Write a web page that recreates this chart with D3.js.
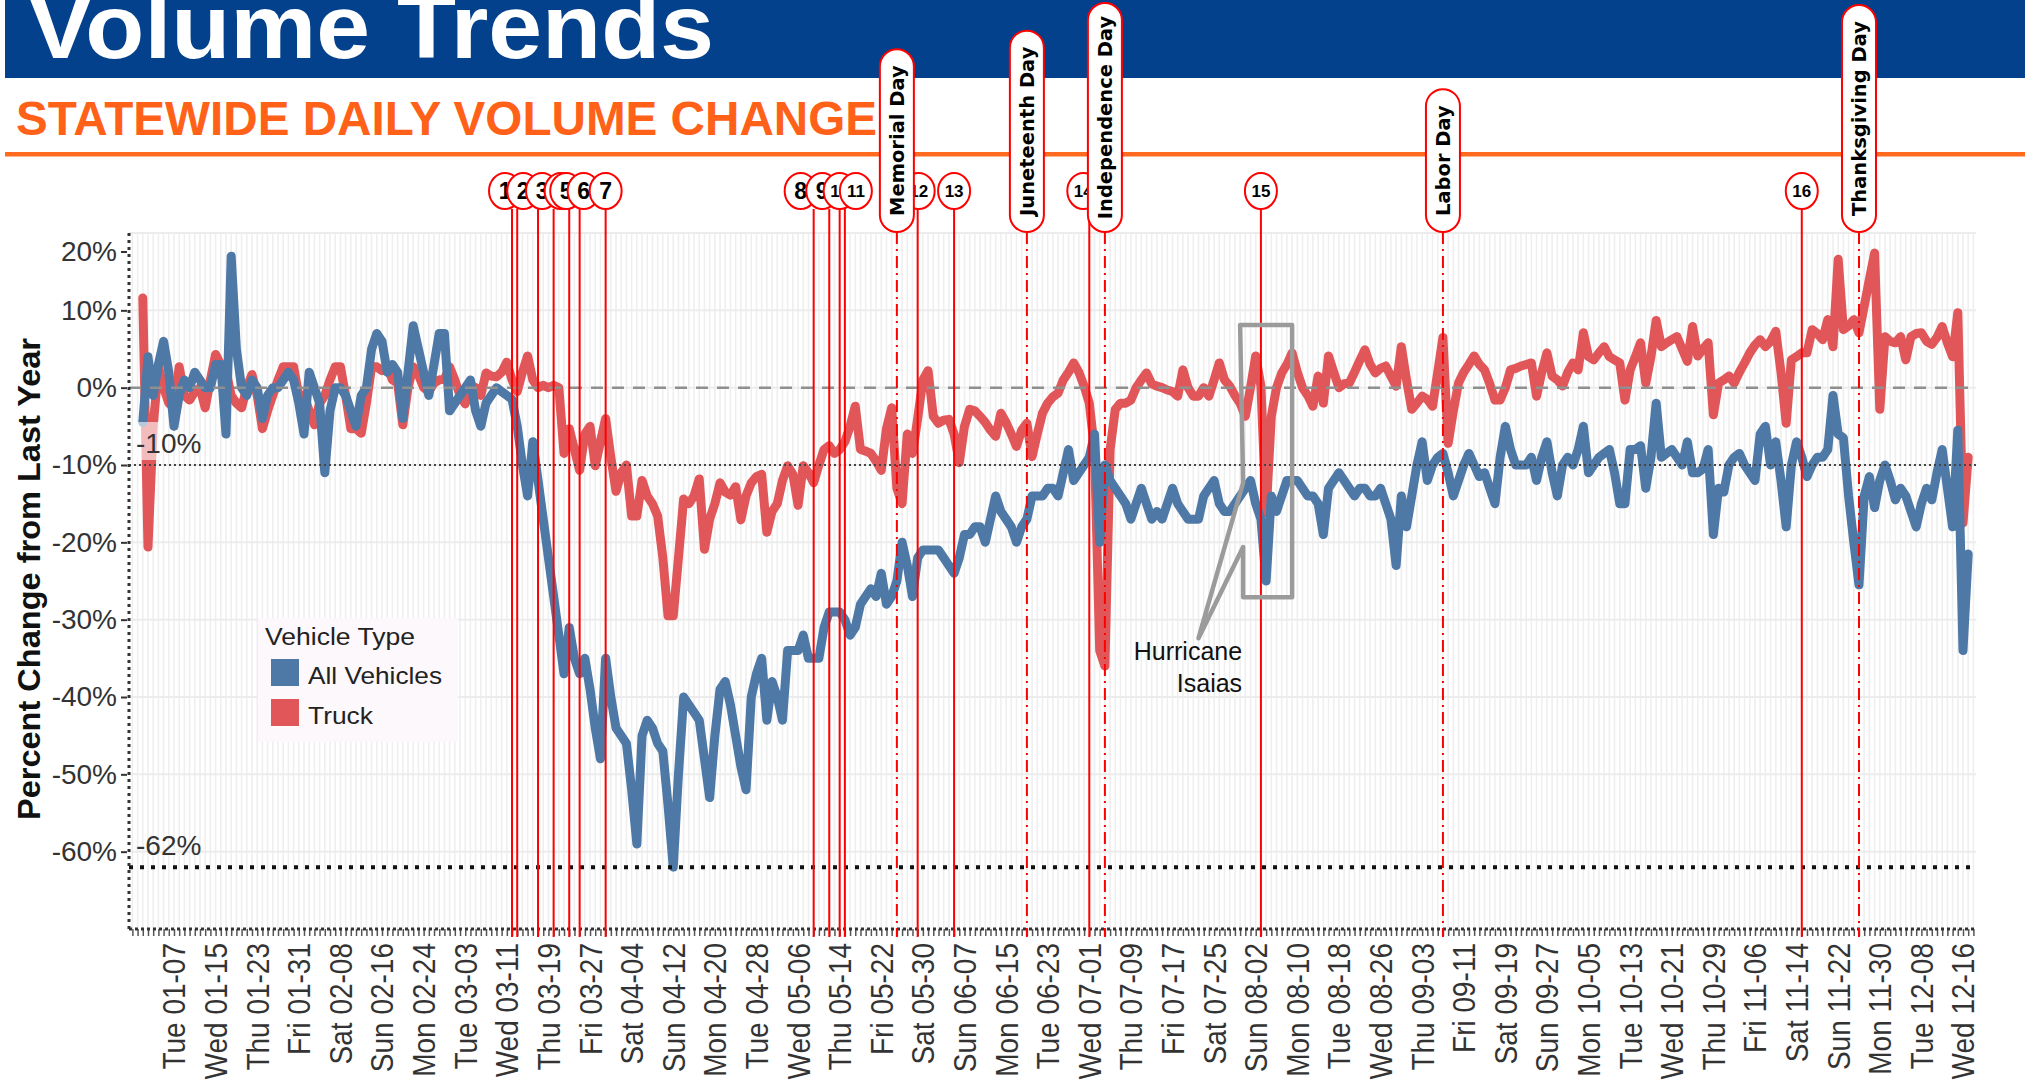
<!DOCTYPE html>
<html lang="en">
  <head>
    <meta charset="UTF-8" />
    <title>Volume Trends</title>
    <style>
      body { margin: 0; background: #fff; }
      svg { display: block; }
      text { font-family: "Liberation Sans", Arial, sans-serif; }
      text.pill { font-family: "DejaVu Sans", Verdana, sans-serif; }
    </style>
  </head>
  <body>
    <svg id="chart" width="2025" height="1092"></svg>

    <script src="https://cdn.jsdelivr.net/npm/d3@7/dist/d3.min.js"></script>
    <script>
    // daily % change from last year, one value per day starting 2020-01-01
    var firstDay = "2020-01-01";

    var allVehicles = [
      -4.5, 4, -1, 3, 6, 2, -5, -1, 1, 0,
      2, 1, 0, 0, 3, 3, -6, 17, 5, 0,
      -1, 1, 0, -4, -1, 0, 0, 1, 2, 1,
      -2, -6, 2, 0, -2, -11, -3, 0, 0, -1,
      -3, -5, -1, 0, 5, 7, 6, 2, 3, 2,
      -4, 2, 8, 5, 2, -1, 3, 7, 7, -3,
      -2, -1, 0, 1, -3, -5, -2, -1, 0, -0.5,
      -1, -1.5, -5, -10, -14, -7, -12, -17, -22, -27,
      -32, -37, -31, -35, -37, -35, -39, -44, -48, -35,
      -40, -44, -45, -46, -52, -59, -45, -43, -44, -46,
      -47, -54, -62, -50, -40, -41, -42, -43, -48, -53,
      -45, -39, -38, -41, -45, -49, -52, -40, -37, -35,
      -43, -38, -40, -43, -34, -34, -34, -32, -35, -35,
      -35, -31, -29, -29, -29, -30, -32, -31, -28, -27,
      -26, -27, -24, -28, -27, -25, -20, -23, -27, -22,
      -21, -21, -21, -21, -22, -23, -24, -22, -19, -19,
      -18, -18, -20, -17, -14, -16, -17, -18, -20, -18,
      -17, -14, -14, -14, -13, -13, -14, -11, -8, -12,
      -11, -10, -9, -6, -20, -10, -12, -13, -14, -15,
      -17, -15, -13, -15, -17, -16, -17, -15, -13, -15,
      -16, -17, -17, -17, -14, -13, -12, -15, -16, -16,
      -15, -14, -13, -12, -15, -17, -25, -14, -16, -14,
      -12, -12, -12, -13, -14, -14, -15, -19, -13, -12,
      -11, -12, -13, -14, -13, -13, -14, -14, -13, -15,
      -17, -23, -14, -18, -14, -10, -7, -12, -10, -9,
      -8.5, -11, -14, -12, -10, -8.5, -10, -11.5, -11, -13,
      -15, -9, -5, -8, -10, -10, -10, -9, -12, -9,
      -7, -11, -14, -10, -9, -10, -8, -5, -11, -10,
      -9, -8.5, -8, -11, -15, -15, -8, -8, -7.5, -13,
      -9, -2, -9, -8.5, -8, -9, -10, -7, -11, -11,
      -10.5, -8, -19, -13, -13.5, -10, -9, -8.5, -10, -11,
      -12, -6, -5, -10, -7, -12, -18, -10, -7, -9,
      -11.5, -10, -9, -9, -8, -1, -6, -6.5, -14, -20,
      -25.5, -14, -11.5, -15.5, -12, -10, -12, -14.5, -13, -14,
      -16, -18, -15, -13, -14.5, -11, -8, -13, -18, -5.5,
      -34, -21.5
    ];

    var truck = [
      11.6, -20.6, -5, 2.7, 0, -2, -2.6, 2.7, -1, -1.6,
      -0.5, 0, -2.6, 1, 4.3, 3, 2.2, -1, -2, -2.6,
      0, 1.7, -1, -5.3, -3, -1, 1, 2.7, 2.7, 2.7,
      -1, -1, -3, -4.8, -2, -1, 1, 2.7, 2.7, -1,
      -5.3, -5.3, -5.9, -2, 2.7, 2.7, 2.2, 2.7, 1, 0.6,
      -4.8, 0, 2.7, 1.7, 0, -0.5, 0.6, 1, 1.1, 2.7,
      1, -1, -2.1, 0.3, 0, -1, 1.9, 1.5, 1.4, 2,
      3.3, 1, -0.5, 2, 4.1, 1, 0, 0.3, 0, 0.3,
      0, -8.5, -5.3, -8, -10.7, -6, -5, -10.1, -7, -4,
      -9, -13.4, -11, -10, -16.6, -16.6, -12, -14, -15, -16.6,
      -22, -29.5, -29.5, -22, -14.4, -15, -14, -11.8, -20.9, -17,
      -15, -12.3, -13.5, -13.9, -12.8, -17.1, -14, -12.3, -11.5, -11.2,
      -18.7, -16, -15, -12, -10.1, -11.2, -15.2, -10.1, -11, -12.3,
      -10, -8, -7.5, -8.5, -8, -7, -5, -2.4, -8, -8.2,
      -8.5, -9.5, -10.7, -5.3, -2.6, -13, -15, -6, -8.5, -4,
      1, 2.2, -3.7, -4.6, -4.2, -4.1, -6, -9.7, -5, -2.8,
      -3, -3.7, -4.5, -5.5, -6.3, -3.3, -4.5, -6, -7.6, -5.5,
      -4.6, -8.9, -6, -3.3, -2, -1.2, -0.7, 1, 2, 3.2,
      2, 0.2, -2, -8, -34, -36, -8, -2.8, -2, -2,
      -1.6, 0, 1, 1.9, 0.5, 0.2, 0, -0.3, -0.5, -1.1,
      2.3, 0, -1.1, -1.1, 0, -1.1, 1, 3.2, 1, 0.2,
      -1, -2, -3.7, 0, 4.1, 0.2, -16.2, -3.7, 0, 1.9,
      3, 4.5, 2, 0, -1, -2.4, 1.5, -2, 4.1, 2,
      0, 0.5, 0.6, 2, 3.5, 4.9, 3, 1.9, 2.5, 2.8,
      1.5, 0.2, 5.3, 1, -2.8, -2, -1.1, -1.5, -2.4, 2,
      6.5, -7.2, -3, 0.6, 2, 3, 4.1, 3, 2.3, 0.5,
      -1.6, -1.6, 0, 2.3, 2.5, 2.8, 3, 3.2, -1.1, 2,
      4.5, 1.5, 1, 0.2, 2, 3.2, 2.3, 7.1, 4, 3.6,
      4.5, 5.3, 4, 3.6, 3.2, -1.6, 2.3, 4, 5.8, 0.6,
      4, 8.7, 5.3, 5.8, 6.2, 6.6, 5, 3.4, 7.9, 4.1,
      5, 5.8, -3.5, 0.6, 1, 1.5, 0.6, 2, 3.2, 4.5,
      5.5, 6.2, 5.3, 6, 7.3, 2, -4.6, 3.6, 4, 4.5,
      4.5, 7.5, 7, 6.2, 8.8, 5.3, 16.6, 7.5, 8, 8.8,
      7.1, 10.5, 14, 17.4, -2.8, 6.6, 6, 5.8, 6.6, 3.6,
      6.6, 7, 7.1, 6, 5.6, 6.5, 7.9, 5.8, 4, 9.7,
      -17.5, -9
    ];

    var yTicks = [20, 10, 0, -10, -20, -30, -40, -50, -60];

    var tickDates = [
      "2020-01-07", "2020-01-15", "2020-01-23", "2020-01-31", "2020-02-08",
      "2020-02-16", "2020-02-24", "2020-03-03", "2020-03-11", "2020-03-19",
      "2020-03-27", "2020-04-04", "2020-04-12", "2020-04-20", "2020-04-28",
      "2020-05-06", "2020-05-14", "2020-05-22", "2020-05-30", "2020-06-07",
      "2020-06-15", "2020-06-23", "2020-07-01", "2020-07-09", "2020-07-17",
      "2020-07-25", "2020-08-02", "2020-08-10", "2020-08-18", "2020-08-26",
      "2020-09-03", "2020-09-11", "2020-09-19", "2020-09-27", "2020-10-05",
      "2020-10-13", "2020-10-21", "2020-10-29", "2020-11-06", "2020-11-14",
      "2020-11-22", "2020-11-30", "2020-12-08", "2020-12-16"
    ];

    var refLevels = [0, -10, -62];
    var refLabels = ["", "-10%", "-62%"];

    var eventNums = [1, 2, 3, 4, 5, 6, 7, 8, 9, 10, 11, 12, 13, 14, 15, 16];
    var eventDates = [
      "2020-03-12", "2020-03-13", "2020-03-17", "2020-03-20", "2020-03-23",
      "2020-03-25", "2020-03-30", "2020-05-09", "2020-05-12", "2020-05-14",
      "2020-05-15", "2020-05-29", "2020-06-05", "2020-07-01", "2020-08-03",
      "2020-11-15"
    ];

    var holidayNames = ["Memorial Day", "Juneteenth Day", "Independence Day", "Labor Day", "Thanksgiving Day"];
    var holidayDates = ["2020-05-25", "2020-06-19", "2020-07-04", "2020-09-07", "2020-11-26"];

    // Hurricane Isaias callout, in data terms
    var stormDates = ["2020-07-30", "2020-08-09"];
    var stormRange = [8.1, -27.1];
    var stormPointer = {date: "2020-07-22", value: -32.4, from: -12.3, to: -20.6};
    var stormText = ["Hurricane", "Isaias"];

    var legendNames = ["All Vehicles", "Truck"];

    // ---------------------------------------------------------------
    var blue = "#4e79a7", red = "#e15759", alarm = "#ff0000";
    var plot = {left: 129, right: 1976, top: 233, bottom: 929};

    var parseDay = d3.utcParse("%Y-%m-%d");
    var day0 = parseDay(firstDay);

    var x = d3.scaleUtc()
      .domain([new Date(day0.getTime() - 2.65 * 864e5), new Date(day0.getTime() + 352.5 * 864e5)])
      .range([plot.left, plot.right]);

    var y = d3.scaleLinear()
      .domain([-70, 20])
      .range([plot.bottom, plot.top]);

    var svg = d3.select("#chart");

    function points(vals) {
      return vals.map(function(v, i) {
        return {date: d3.utcDay.offset(day0, i), v: v};
      });
    }

    // grid
    var days = d3.utcDay.range(x.domain()[0], x.domain()[1]);
    svg.append("g").selectAll("line")
      .data(days).enter().append("line")
      .attr("x1", function(d) { return x(d); })
      .attr("x2", function(d) { return x(d); })
      .attr("y1", plot.top)
      .attr("y2", plot.bottom)
      .attr("stroke", "#efefef")
      .attr("stroke-width", 1.6);

    svg.append("g").selectAll("line")
      .data(yTicks).enter().append("line")
      .attr("x1", plot.left)
      .attr("x2", plot.right)
      .attr("y1", function(d) { return y(d); })
      .attr("y2", function(d) { return y(d); })
      .attr("stroke", "#ececec")
      .attr("stroke-width", 2);

    // legend
    var legend = svg.append("g").attr("transform", "translate(258,618)");
    legend.append("rect")
      .attr("width", 200).attr("height", 124)
      .attr("fill", "#fcf8fb");
    legend.append("text")
      .attr("x", 7).attr("y", 27)
      .attr("font-size", 23)
      .attr("fill", "#222")
      .attr("textLength", 150)
      .attr("lengthAdjust", "spacingAndGlyphs")
      .text("Vehicle Type");
    legend.selectAll(".sw")
      .data(legendNames).enter().append("rect")
      .attr("class", "sw")
      .attr("x", 13)
      .attr("y", function(d, i) { return 41 + i * 40; })
      .attr("width", 28).attr("height", 27)
      .attr("fill", function(d, i) { return i === 0 ? blue : red; });
    legend.selectAll(".lab")
      .data(legendNames).enter().append("text")
      .attr("class", "lab")
      .attr("x", 50)
      .attr("y", function(d, i) { return 66 + i * 40; })
      .attr("font-size", 24)
      .attr("fill", "#222")
      .attr("textLength", function(d, i) { return i === 0 ? 134 : 65; })
      .attr("lengthAdjust", "spacingAndGlyphs")
      .text(function(d) { return d; });

    // data lines, truck under all vehicles
    var line = d3.line()
      .x(function(d) { return x(d.date); })
      .y(function(d) { return y(d.v); });

    [[truck, red], [allVehicles, blue]].forEach(function(s) {
      svg.append("path")
        .datum(points(s[0]))
        .attr("d", line)
        .attr("fill", "none")
        .attr("stroke", s[1])
        .attr("stroke-width", 9)
        .attr("stroke-linejoin", "round")
        .attr("stroke-linecap", "round");
    });

    // reference lines
    var refStroke = ["#8f8f8f", "#444", "#111"];
    var refWidth = [2.5, 2, 4];
    var refDash = ["12,9", "2,3", "4,7"];
    refLevels.forEach(function(v, i) {
      svg.append("line")
        .attr("x1", plot.left).attr("x2", plot.right)
        .attr("y1", y(v)).attr("y2", y(v))
        .attr("stroke", refStroke[i])
        .attr("stroke-width", refWidth[i])
        .attr("stroke-dasharray", refDash[i]);
      if (refLabels[i]) {
        if (i === 1) {
          svg.append("rect")
            .attr("x", 133).attr("y", y(v) - 43)
            .attr("width", 26).attr("height", 38)
            .attr("fill", "#fff").attr("opacity", 0.6);
        }
        svg.append("text")
          .attr("x", 136).attr("y", y(v) - 12)
          .attr("font-size", 28)
          .attr("fill", "#333")
          .text(refLabels[i]);
      }
    });

    // y axis
    var gy = svg.append("g")
      .attr("transform", "translate(127,0)")
      .call(d3.axisLeft(y).tickValues(yTicks)
        .tickFormat(function(d) { return d + "%"; })
        .tickSize(6).tickPadding(4));
    gy.select(".domain").remove();
    gy.attr("font-size", 28).attr("font-family", null).attr("color", "#333");
    gy.selectAll(".tick line").attr("stroke-width", 2);
    gy.selectAll(".tick").filter(function(d) { return d === 20; })
      .attr("transform", "translate(0," + (y(20) + 19) + ")");

    svg.append("line")
      .attr("x1", plot.left).attr("x2", plot.left)
      .attr("y1", plot.top).attr("y2", plot.bottom)
      .attr("stroke", "#333").attr("stroke-width", 3)
      .attr("stroke-dasharray", "3,4");

    svg.append("text")
      .attr("transform", "translate(40,579) rotate(-90)")
      .attr("text-anchor", "middle")
      .attr("font-size", 32)
      .attr("font-weight", "bold")
      .attr("fill", "#111")
      .attr("textLength", 482)
      .attr("lengthAdjust", "spacingAndGlyphs")
      .text("Percent Change from Last Year");

    // x axis: one small tick per day, labels every 8 days
    var gxMinor = svg.append("g")
      .attr("transform", "translate(0," + plot.bottom + ")")
      .call(d3.axisBottom(x).tickValues(days).tickFormat("").tickSize(7));
    gxMinor.select(".domain").remove();
    gxMinor.selectAll(".tick line").attr("stroke", "#555").attr("stroke-width", 1.5);

    svg.append("line")
      .attr("x1", plot.left).attr("x2", plot.right)
      .attr("y1", plot.bottom).attr("y2", plot.bottom)
      .attr("stroke", "#333").attr("stroke-width", 3)
      .attr("stroke-dasharray", "3,3");

    var gx = svg.append("g")
      .attr("transform", "translate(0," + plot.bottom + ")")
      .call(d3.axisBottom(x).tickValues(tickDates.map(parseDay))
        .tickFormat(d3.utcFormat("%a %m-%d")).tickSize(0));
    gx.select(".domain").remove();
    gx.attr("font-size", 28).attr("font-family", null).attr("color", "#333");
    gx.selectAll("text")
      .attr("transform", "rotate(-90) scale(1,1.12)")
      .attr("x", -14)
      .attr("y", 0)
      .attr("dy", "0.35em")
      .style("text-anchor", "end");

    // event lines
    var lineBottom = 937, bubbleY = 191, pillBottom = 232;

    svg.append("g").selectAll("line")
      .data(eventDates).enter().append("line")
      .attr("x1", function(d) { return x(parseDay(d)); })
      .attr("x2", function(d) { return x(parseDay(d)); })
      .attr("y1", bubbleY + 18)
      .attr("y2", lineBottom)
      .attr("stroke", alarm)
      .attr("stroke-width", 2);

    svg.append("g").selectAll("line")
      .data(holidayDates).enter().append("line")
      .attr("x1", function(d) { return x(parseDay(d)); })
      .attr("x2", function(d) { return x(parseDay(d)); })
      .attr("y1", pillBottom)
      .attr("y2", lineBottom)
      .attr("stroke", alarm)
      .attr("stroke-width", 2)
      .attr("stroke-dasharray", "12,5,2,5");

    // hurricane callout
    var sx0 = x(parseDay(stormDates[0])), sx1 = x(parseDay(stormDates[1]));
    var sy0 = y(stormRange[0]), sy1 = y(stormRange[1]);
    var tipX = x(parseDay(stormPointer.date)), tipY = y(stormPointer.value);
    var callout = [
      [sx0, sy0], [sx1, sy0], [sx1, sy1], [sx0 + 3, sy1],
      [sx0 + 3, y(stormPointer.to)], [tipX, tipY], [sx0 + 3, y(stormPointer.from)]
    ];
    svg.append("path")
      .attr("d", d3.line()(callout) + "Z")
      .attr("fill", "none")
      .attr("stroke", "#9b9b9b")
      .attr("stroke-width", 4.5)
      .attr("stroke-linejoin", "round");
    svg.selectAll(".storm")
      .data(stormText).enter().append("text")
      .attr("class", "storm")
      .attr("x", sx0 + 2)
      .attr("y", function(d, i) { return tipY + 22 + i * 32; })
      .attr("text-anchor", "end")
      .attr("font-size", 25)
      .attr("fill", "#111")
      .text(function(d) { return d; });

    // header
    svg.append("rect")
      .attr("x", 5).attr("y", 0)
      .attr("width", 2020).attr("height", 78)
      .attr("fill", "#03418c");
    svg.append("text")
      .attr("x", 28).attr("y", 58)
      .attr("font-size", 90)
      .attr("font-weight", "bold")
      .attr("fill", "#fff")
      .attr("textLength", 686)
      .attr("lengthAdjust", "spacingAndGlyphs")
      .text("Volume Trends");
    svg.append("text")
      .attr("x", 16).attr("y", 135)
      .attr("font-size", 48)
      .attr("font-weight", "bold")
      .attr("fill", "#ff6118")
      .attr("textLength", 861)
      .attr("lengthAdjust", "spacingAndGlyphs")
      .text("STATEWIDE DAILY VOLUME CHANGE");
    svg.append("rect")
      .attr("x", 5).attr("y", 152)
      .attr("width", 2020).attr("height", 4.5)
      .attr("fill", "#ff6a1f");

    // numbered event bubbles (nudged so overlapping ones stay readable)
    var bubbleNudge = [-7, 6, 4, 7, -3, 4, 0, -13, -7, 0, 11, 1, 0, -6, 0, 0];
    var bubbles = svg.append("g").selectAll("g")
      .data(eventNums).enter().append("g")
      .attr("transform", function(d, i) {
        return "translate(" + (x(parseDay(eventDates[i])) + bubbleNudge[i]) + "," + bubbleY + ")";
      });
    bubbles.append("ellipse")
      .attr("rx", 16).attr("ry", 18)
      .attr("fill", "#fff")
      .attr("stroke", alarm)
      .attr("stroke-width", 2);
    bubbles.append("text")
      .attr("text-anchor", "middle")
      .attr("dy", "0.35em")
      .attr("font-weight", "bold")
      .attr("font-size", function(d) { return d < 10 ? 23 : 17; })
      .attr("fill", "#000")
      .text(function(d) { return d; });

    // holiday pills
    var pills = svg.append("g").selectAll("g")
      .data(holidayNames).enter().append("g");
    pills.each(function(name, i) {
      var g = d3.select(this);
      var cx = x(parseDay(holidayDates[i]));
      var rect = g.append("rect");
      var t = g.append("text")
        .attr("class", "pill")
        .attr("text-anchor", "middle")
        .attr("dy", "0.36em")
        .attr("font-weight", "bold")
        .attr("font-size", 19.5)
        .attr("fill", "#000")
        .text(name);
      var len = t.node().getComputedTextLength();
      var h = Math.min(len + 32, 229);
      rect.attr("x", cx - 17).attr("y", pillBottom - h)
        .attr("width", 34).attr("height", h)
        .attr("rx", 17).attr("ry", 17)
        .attr("fill", "#fff")
        .attr("stroke", alarm)
        .attr("stroke-width", 2);
      t.attr("transform", "translate(" + cx + "," + (pillBottom - h / 2) + ") rotate(-90)");
    });
    </script>
  </body>
</html>
